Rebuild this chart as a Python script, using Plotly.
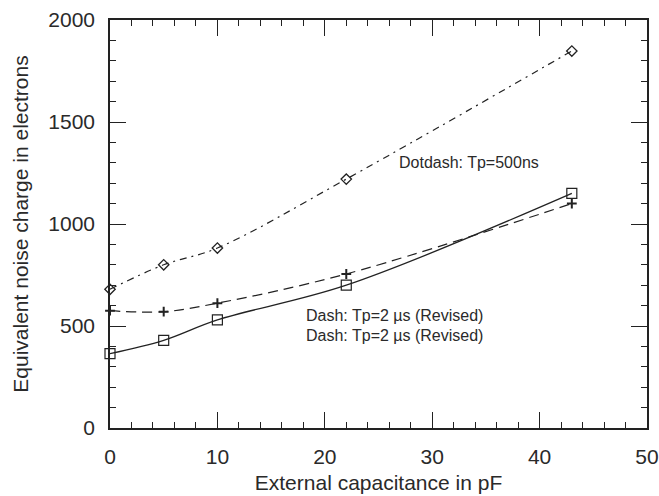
import plotly.graph_objects as go

cap_pf = [0, 5, 10, 22, 43]
enc_dotdash_500ns = [680, 800, 882, 1220, 1848]
enc_dash_2us = [575, 570, 612, 755, 1100]
enc_solid = [365, 430, 530, 700, 1150]

x_ticks = [0, 10, 20, 30, 40, 50]
y_ticks = [0, 500, 1000, 1500, 2000]

ink = "#222222"
txt = "#2a2a2a"
fnt = "Liberation Sans, Arial, sans-serif"

fig = go.Figure()
fig.add_trace(go.Scatter(
    x=cap_pf, y=enc_dotdash_500ns, mode="lines+markers", cliponaxis=False,
    line=dict(color=ink, width=1.2, dash="7px,5px,2px,5px", shape="spline", smoothing=1.0),
    marker=dict(symbol="diamond-open", size=8, color=ink, line=dict(width=1.3)),
    showlegend=False))
fig.add_trace(go.Scatter(
    x=cap_pf, y=enc_dash_2us, mode="lines+markers", cliponaxis=False,
    line=dict(color=ink, width=1.2, dash="10px,6px", shape="spline", smoothing=1.0),
    marker=dict(symbol="cross-thin-open", size=7, color=ink, line=dict(width=2, color=ink)),
    showlegend=False))
fig.add_trace(go.Scatter(
    x=cap_pf, y=enc_solid, mode="lines+markers", cliponaxis=False,
    line=dict(color=ink, width=1.3, shape="spline", smoothing=1.0),
    marker=dict(symbol="square-open", size=10, color=ink, line=dict(width=1.2)),
    showlegend=False))

fig.add_annotation(x=26.7, y=1300, text="Dotdash: Tp=500ns", showarrow=False,
                   xanchor="left", yanchor="middle", font=dict(size=16, color=txt, family=fnt))
fig.add_annotation(x=18.1, y=552, text="Dash: Tp=2 \u00b5s (Revised)", showarrow=False,
                   xanchor="left", yanchor="middle", font=dict(size=16, color=txt, family=fnt))
fig.add_annotation(x=18.1, y=454, text="Dash: Tp=2 \u00b5s (Revised)", showarrow=False,
                   xanchor="left", yanchor="middle", font=dict(size=16, color=txt, family=fnt))

axis_common = dict(
    showgrid=False, zeroline=False, showline=True, linecolor=ink, linewidth=1.5,
    mirror="allticks", ticks="inside", ticklen=16, tickwidth=1.2, tickcolor=ink,
    tickfont=dict(size=21, color=txt, family=fnt), automargin=False,
)
fig.update_xaxes(**axis_common, range=[0, 50], tickvals=x_ticks, ticklabelstandoff=9,
                 minor=dict(dtick=2, ticks="inside", ticklen=6, tickcolor=ink, tickwidth=1),
                 title=dict(text="External capacitance in pF", font=dict(size=21, color=txt, family=fnt), standoff=8))
fig.update_yaxes(**axis_common, range=[0, 2000], tickvals=y_ticks, ticklabelstandoff=9,
                 minor=dict(dtick=100, ticks="inside", ticklen=6, tickcolor=ink, tickwidth=1),
                 title=dict(text="Equivalent noise charge in electrons", font=dict(size=21, color=txt, family=fnt), standoff=14))

fig.update_layout(width=659, height=496, margin=dict(l=110, r=12, t=20, b=68),
                  plot_bgcolor="white", paper_bgcolor="white", font=dict(family=fnt))

fig.write_html("out.html")
